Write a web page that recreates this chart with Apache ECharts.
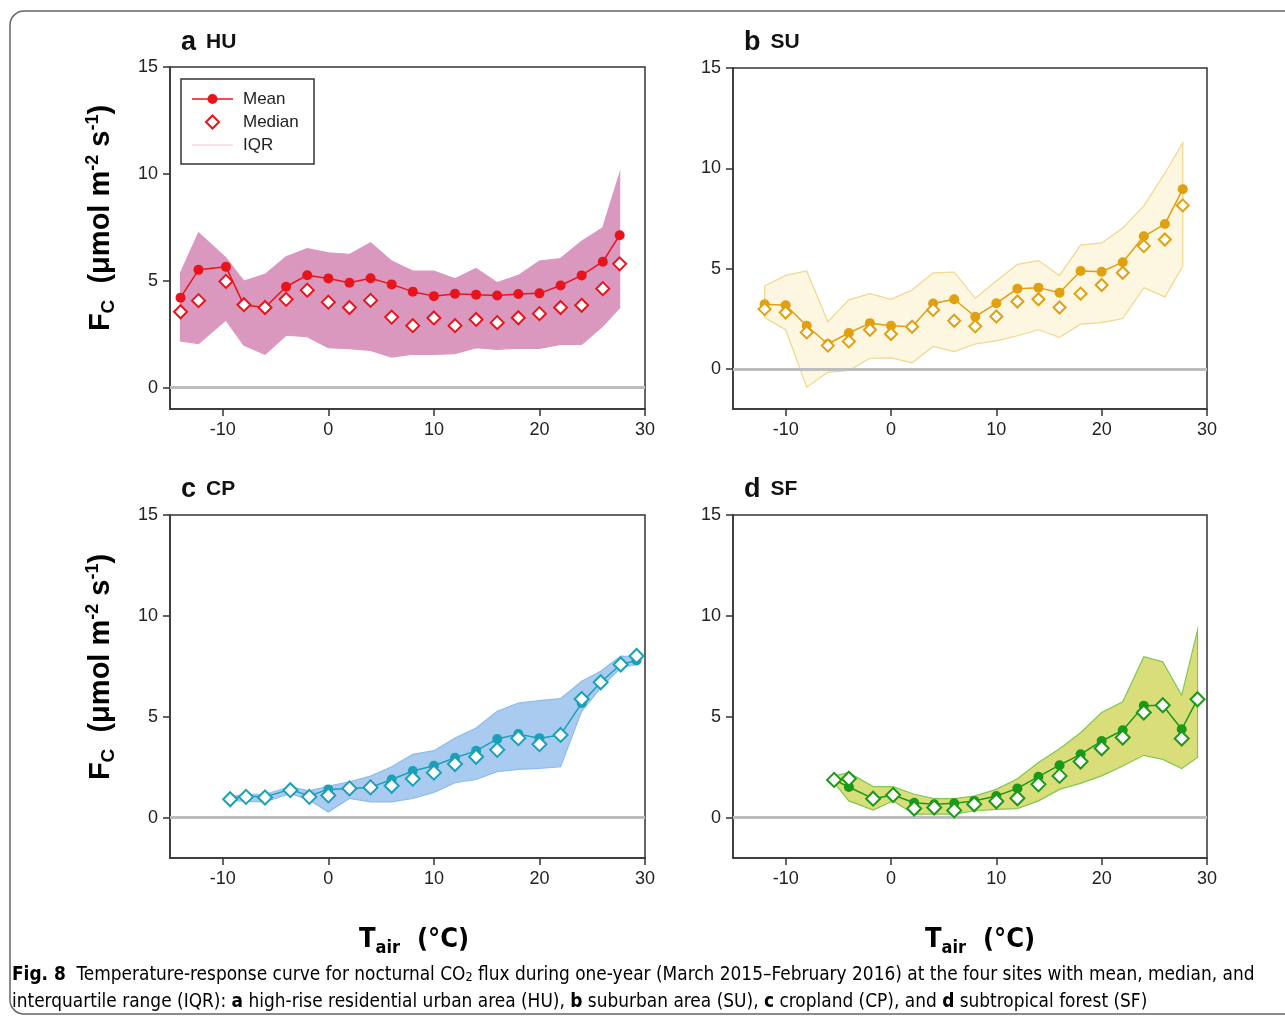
<!DOCTYPE html>
<html>
<head>
<meta charset="utf-8">
<script src="https://cdn.jsdelivr.net/npm/echarts@6.0.0/dist/echarts.min.js"></script>
<style>
  html, body { margin: 0; padding: 0; background: #fff; }
  #main { width: 1285px; height: 1019px; }
</style>
</head>
<body>
<div id="main"></div>
<script>
var xTicks = [-10, 0, 10, 20, 30];
var yTicks = [0, 5, 10, 15];

// a HU
var huX = [-14, -12.3, -9.7, -8, -6, -4, -2, 0, 2, 4, 6, 8, 10, 12, 14, 16, 18, 20, 22, 24, 26, 27.6];
var huMean = [4.21, 5.51, 5.65, 3.86, 3.75, 4.72, 5.26, 5.11, 4.91, 5.12, 4.83, 4.49, 4.28, 4.39, 4.35, 4.31, 4.38, 4.41, 4.78, 5.25, 5.89, 7.13];
var huMedian = [3.55, 4.07, 4.97, 3.88, 3.75, 4.13, 4.56, 4.0, 3.75, 4.08, 3.3, 2.9, 3.26, 2.9, 3.19, 3.04, 3.27, 3.46, 3.75, 3.85, 4.63, 5.79];
var huQ3 = [5.37, 7.24, 6.07, 4.98, 5.3, 6.12, 6.5, 6.31, 6.23, 6.78, 5.92, 5.45, 5.45, 5.09, 5.58, 4.91, 5.25, 5.92, 6.04, 6.85, 7.48, 10.02];
var huQ1 = [2.18, 2.06, 3.16, 1.98, 1.56, 2.45, 2.38, 1.87, 1.82, 1.74, 1.43, 1.56, 1.56, 1.59, 1.87, 1.79, 1.85, 1.84, 2.02, 2.02, 2.88, 3.74];

// b SU
var suX = [-12, -10, -8, -6, -4, -2, 0, 2, 4, 6, 8, 10, 12, 14, 16, 18, 20, 22, 24, 26, 27.7];
var suMean = [3.22, 3.17, 2.15, 1.24, 1.79, 2.28, 2.15, 2.1, 3.26, 3.47, 2.6, 3.27, 4.0, 4.05, 3.8, 4.88, 4.84, 5.32, 6.61, 7.22, 8.96];
var suMedian = [2.98, 2.81, 1.82, 1.16, 1.37, 1.95, 1.74, 2.1, 2.94, 2.4, 2.12, 2.61, 3.36, 3.47, 3.06, 3.75, 4.18, 4.79, 6.12, 6.45, 8.15];
var suQ3 = [4.13, 4.66, 4.88, 2.35, 3.44, 3.75, 3.47, 3.93, 4.79, 4.83, 3.52, 4.38, 5.21, 5.4, 4.66, 6.17, 6.28, 7.02, 8.13, 9.75, 11.27];
var suQ1 = [2.56, 1.95, -0.91, -0.17, -0.08, 0.53, 0.55, 0.3, 1.12, 0.86, 1.24, 1.4, 1.65, 1.95, 1.57, 2.23, 2.31, 2.51, 4.05, 3.59, 5.12];

// c CP
var cpX = [-9.3, -7.8, -6, -3.6, -1.8, 0, 2, 4, 6, 8, 10, 12, 14, 16, 18, 20, 22, 24, 25.8, 27.7, 29.2];
var cpMean = [0.95, 1.06, 1.03, 1.4, 1.08, 1.4, 1.45, 1.5, 1.89, 2.31, 2.57, 2.97, 3.31, 3.9, 4.14, 3.94, 4.1, 5.68, 6.71, 7.59, 7.79];
var cpMedian = [0.91, 1.03, 1.0, 1.36, 1.03, 1.1, 1.45, 1.5, 1.58, 1.93, 2.23, 2.66, 3.02, 3.36, 3.94, 3.64, 4.1, 5.88, 6.71, 7.59, 8.01];
var cpQ3 = [1.03, 1.16, 1.16, 1.53, 1.33, 1.56, 1.78, 2.06, 2.52, 3.14, 3.32, 3.94, 4.44, 5.27, 5.68, 5.8, 5.9, 6.76, 7.26, 8.01, 7.97];
var cpQ1 = [0.86, 0.81, 0.78, 1.2, 0.86, 0.28, 0.95, 0.78, 0.78, 0.95, 1.25, 1.73, 1.89, 2.28, 2.39, 2.44, 2.52, 5.27, 6.43, 7.43, 7.59];

// d SF
var sfX = [-5.4, -4, -1.7, 0.2, 2.2, 4.1, 6, 7.9, 10, 12, 14, 16, 18, 20, 22, 24, 25.8, 27.6, 29.1];
var sfMean = [1.87, 1.52, 0.94, 1.12, 0.74, 0.66, 0.71, 0.83, 1.07, 1.45, 2.03, 2.6, 3.14, 3.8, 4.33, 5.54, 5.57, 4.38, 5.87];
var sfMedian = [1.87, 1.93, 0.94, 1.12, 0.45, 0.5, 0.36, 0.66, 0.81, 0.96, 1.65, 2.07, 2.78, 3.44, 3.97, 5.21, 5.57, 3.92, 5.87];
var sfQ3 = [2.07, 2.23, 1.54, 1.54, 1.16, 0.94, 0.94, 1.07, 1.4, 1.93, 2.73, 3.42, 4.21, 5.21, 5.74, 7.98, 7.72, 6.07, 9.29];
var sfQ1 = [1.74, 0.83, 0.38, 0.83, 0.17, 0.17, 0.17, 0.33, 0.41, 0.45, 0.83, 1.4, 1.7, 2.07, 2.56, 3.09, 2.89, 2.43, 2.98];

var font = "'Liberation Sans', Arial, sans-serif";
var narrow = "'Liberation Sans Narrow', 'DejaVu Sans Condensed', Arial, sans-serif";

var panels = [
  { x: huX, mean: huMean, median: huMedian, q3: huQ3, q1: huQ1, ymin: -1, dsize: 13,
    grid: { left: 170, top: 67, width: 475, height: 342 },
    color: '#e8141c', fill: '#da98bf', edge: '#da98bf' },
  { x: suX, mean: suMean, median: suMedian, q3: suQ3, q1: suQ1, ymin: -2, dsize: 12,
    grid: { left: 733, top: 68, width: 474, height: 341 },
    color: '#e0a010', fill: '#fdf6e0', edge: '#f1d68c' },
  { x: cpX, mean: cpMean, median: cpMedian, q3: cpQ3, q1: cpQ1, ymin: -2, dsize: 14,
    grid: { left: 170, top: 515, width: 475, height: 343 },
    color: '#1aa0b8', fill: '#a8cbef', edge: '#8ebde9' },
  { x: sfX, mean: sfMean, median: sfMedian, q3: sfQ3, q1: sfQ1, ymin: -2, dsize: 14,
    grid: { left: 733, top: 515, width: 474, height: 343 },
    color: '#1a991a', fill: '#d9dd7a', edge: '#80c850' }
];

function pairs(xs, ys) {
  return xs.map(function (x, i) { return [x, ys[i]]; });
}

var grids = [], xAxes = [], yAxes = [], series = [];

panels.forEach(function (p, k) {
  grids.push(Object.assign({ show: true, borderColor: '#333', borderWidth: 1.5 }, p.grid));
  xAxes.push({
    gridIndex: k, type: 'value', min: -15, max: 30,
    axisLine: { onZero: false, lineStyle: { color: '#333', width: 1.5 } },
    axisTick: { customValues: xTicks, length: 7, lineStyle: { color: '#333', width: 1.5 } },
    axisLabel: { customValues: xTicks, margin: 12, fontSize: 18, fontFamily: font, color: '#222' },
    splitLine: { show: false }
  });
  yAxes.push({
    gridIndex: k, type: 'value', min: p.ymin, max: 15,
    axisLine: { show: true, onZero: false, lineStyle: { color: '#333', width: 1.5 } },
    axisTick: { show: true, customValues: yTicks, length: 7, lineStyle: { color: '#333', width: 1.5 } },
    axisLabel: { customValues: yTicks, margin: 12, fontSize: 18, fontFamily: font, color: '#222' },
    splitLine: { show: false }
  });

  // IQR band
  series.push({
    type: 'custom', name: 'IQR' + k,
    xAxisIndex: k, yAxisIndex: k, z: 1, silent: true,
    data: p.x.map(function (x, i) { return [x, p.q3[i], p.q1[i]]; }),
    encode: { x: 0, y: [1, 2] },
    renderItem: function (params, api) {
      if (params.dataIndex !== 0) return;
      var pts = [];
      for (var i = 0; i < p.x.length; i++) pts.push(api.coord([p.x[i], p.q3[i]]));
      for (var j = p.x.length - 1; j >= 0; j--) pts.push(api.coord([p.x[j], p.q1[j]]));
      return {
        type: 'polygon',
        shape: { points: pts },
        style: { fill: p.fill, stroke: p.edge, lineWidth: 1.2 }
      };
    }
  });

  series.push({
    type: 'line', name: 'Mean' + k,
    xAxisIndex: k, yAxisIndex: k, z: 3,
    data: pairs(p.x, p.mean),
    symbol: 'circle', symbolSize: 10, showSymbol: true,
    lineStyle: { color: p.color, width: 1.5 },
    itemStyle: { color: p.color },
    markLine: {
      silent: true, symbol: 'none', z: 2,
      label: { show: false },
      lineStyle: { color: '#bdbdbd', width: 3, type: 'solid' },
      data: [{ yAxis: 0 }]
    }
  });

  series.push({
    type: 'scatter', name: 'Median' + k,
    xAxisIndex: k, yAxisIndex: k, z: 4,
    data: pairs(p.x, p.median),
    symbol: 'diamond', symbolSize: p.dsize,
    itemStyle: { color: '#fff', borderColor: p.color, borderWidth: 2, opacity: 1 }
  });
});

function titleOf(letter, site, left, top) {
  return {
    text: '{l|' + letter + '}  {n|' + site + '}', left: left, top: top,
    textStyle: {
      rich: {
        l: { fontFamily: font, fontWeight: 'bold', fontSize: 27, color: '#111' },
        n: { fontFamily: font, fontWeight: 'bold', fontSize: 21, color: '#111' }
      }
    }
  };
}

var yLabelRich = {
  b: { fontFamily: font, fontWeight: 'bold', fontSize: 29, color: '#111', lineHeight: 34 },
  sub: { fontFamily: font, fontWeight: 'bold', fontSize: 19, color: '#111', lineHeight: 16, verticalAlign: 'bottom' },
  sup: { fontFamily: font, fontWeight: 'bold', fontSize: 18, color: '#111', lineHeight: 18, verticalAlign: 'top' }
};
var yLabelText = '{b|F}{sub|C}{b|  (μmol m}{sup|-2}{b| s}{sup|-1}{b|)}';

var xLabelRich = {
  b: { fontFamily: narrow, fontWeight: 'bold', fontSize: 27, color: '#111', lineHeight: 34 },
  sub: { fontFamily: narrow, fontWeight: 'bold', fontSize: 18, color: '#111', lineHeight: 18, verticalAlign: 'bottom' }
};
var xLabelText = '{b|T}{sub|air}{b|  (°C)}';

var capRich = {
  b: { fontFamily: narrow, fontWeight: 'bold', fontSize: 18.9, color: '#222' },
  r: { fontFamily: narrow, fontSize: 18.9, color: '#222' },
  s: { fontFamily: narrow, fontSize: 12.5, color: '#222', verticalAlign: 'bottom', lineHeight: 14 }
};

// legend box of panel a
var lg = { x: 181, y: 79, w: 133, h: 85, red: '#e8141c' };
var legendGraphics = [
  { type: 'rect', shape: { x: lg.x, y: lg.y, width: lg.w, height: lg.h },
    style: { fill: '#fff', stroke: '#333', lineWidth: 1.5 }, z: 10 },
  { type: 'line', shape: { x1: 192, y1: 99, x2: 233, y2: 99 },
    style: { stroke: lg.red, lineWidth: 1.5 }, z: 11 },
  { type: 'circle', shape: { cx: 212.5, cy: 99, r: 5 }, style: { fill: lg.red }, z: 11 },
  { type: 'polygon', shape: { points: [[212.5, 115.5], [219, 122], [212.5, 128.5], [206, 122]] },
    style: { fill: '#fff', stroke: lg.red, lineWidth: 2 }, z: 11 },
  { type: 'line', shape: { x1: 192, y1: 145, x2: 233, y2: 145 },
    style: { stroke: '#f1c3d4', lineWidth: 1 }, z: 11 },
  { type: 'text', x: 243, y: 99, z: 11,
    style: { text: 'Mean', font: '17px ' + font, fill: '#222', verticalAlign: 'middle' } },
  { type: 'text', x: 243, y: 122, z: 11,
    style: { text: 'Median', font: '17px ' + font, fill: '#222', verticalAlign: 'middle' } },
  { type: 'text', x: 243, y: 145, z: 11,
    style: { text: 'IQR', font: '17px ' + font, fill: '#222', verticalAlign: 'middle' } }
];

var chart = echarts.init(document.getElementById('main'), null, { renderer: 'canvas' });

chart.setOption({
  backgroundColor: '#fff',
  animation: false,
  title: [
    titleOf('a', 'HU', 176, 24),
    titleOf('b', 'SU', 739, 24),
    titleOf('c', 'CP', 176, 471),
    titleOf('d', 'SF', 739, 471)
  ],
  grid: grids,
  xAxis: xAxes,
  yAxis: yAxes,
  series: series,
  graphic: [
    { type: 'rect', shape: { x: 10, y: 11, width: 1300, height: 1003, r: 14 }, z: -10,
      style: { fill: 'none', stroke: '#666', lineWidth: 1.5 } },
    { type: 'text', x: 101, y: 218, rotation: Math.PI / 2,
      style: { text: yLabelText, rich: yLabelRich, align: 'center', verticalAlign: 'middle' } },
    { type: 'text', x: 101, y: 667, rotation: Math.PI / 2,
      style: { text: yLabelText, rich: yLabelRich, align: 'center', verticalAlign: 'middle' } },
    { type: 'text', x: 414, y: 940,
      style: { text: xLabelText, rich: xLabelRich, align: 'center', verticalAlign: 'middle' } },
    { type: 'text', x: 980, y: 940,
      style: { text: xLabelText, rich: xLabelRich, align: 'center', verticalAlign: 'middle' } },
    { type: 'text', x: 12, y: 975,
      style: {
        text: '{b|Fig. 8}{r|  Temperature-response curve for nocturnal CO}{s|2}{r| flux during one-year (March 2015–February 2016) at the four sites with mean, median, and}',
        rich: capRich, verticalAlign: 'middle' } },
    { type: 'text', x: 12, y: 1002,
      style: {
        text: '{r|interquartile range (IQR): }{b|a}{r| high-rise residential urban area (HU), }{b|b}{r| suburban area (SU), }{b|c}{r| cropland (CP), and }{b|d}{r| subtropical forest (SF)}',
        rich: capRich, verticalAlign: 'middle' } }
  ].concat(legendGraphics)
});
</script>
</body>
</html>
